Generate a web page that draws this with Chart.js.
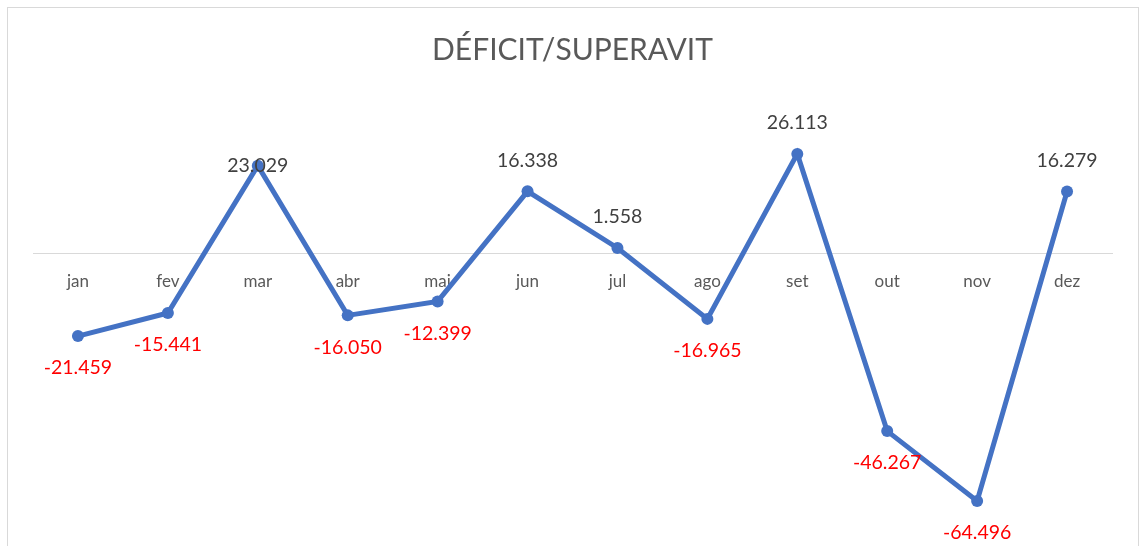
<!DOCTYPE html>
<html>
<head>
<meta charset="utf-8">
<script src="https://cdn.jsdelivr.net/npm/chart.js@4.4.1/dist/chart.umd.min.js"></script>
<style>
    html, body { margin: 0; padding: 0; background: #ffffff; }
    #wrap { position: relative; width: 1141px; height: 546px; overflow: hidden; }
    #frame { position: absolute; left: 7px; top: 7px; width: 1130px; height: 560px; border: 1px solid #d9d9d9; }
    #chart { position: absolute; left: 0; top: 0; }
</style>
</head>
<body>
<div id="wrap">
    <div id="frame"></div>
    <canvas id="chart" width="1141" height="546"></canvas>
</div>
<script>
// Déficit / superávit mensal
const months = ['jan', 'fev', 'mar', 'abr', 'mai', 'jun', 'jul', 'ago', 'set', 'out', 'nov', 'dez'];
const balance = [-21459, -15441, 23029, -16050, -12399, 16338, 1558, -16965, 26113, -46267, -64496, 16279];
const yRange = [-70000, 30000];

// formato pt-BR: separador de milhar com ponto
function fmt(v) {
    const s = Math.abs(v).toString().replace(/\B(?=(\d{3})+(?!\d))/g, '.');
    return (v < 0 ? '-' : '') + s;
}

const FONT = "Lato, 'Open Sans', sans-serif";

document.addEventListener('DOMContentLoaded', function() {
    const ctx = document.getElementById('chart').getContext('2d');
    new Chart(ctx, {
        type: 'line',
        data: {
            labels: months,
            datasets: [{
                data: balance,
                borderColor: '#4472C4',
                backgroundColor: '#4472C4',
                borderWidth: 5,
                pointRadius: 6,
                pointHoverRadius: 6,
                pointBorderWidth: 0,
                tension: 0
            }]
        },
        options: {
            responsive: false,
            animation: false,
            layout: {
                padding: { top: 0, left: 33, right: 29, bottom: 24 }
            },
            scales: {
                x: {
                    position: { y: 0 },
                    offset: true,
                    grid: { display: false, drawTicks: false },
                    border: { display: true, color: '#d9d9d9', width: 1 },
                    ticks: {
                        color: '#595959',
                        padding: 17,
                        font: { family: FONT, size: 17 }
                    }
                },
                y: {
                    display: false,
                    min: yRange[0],
                    max: yRange[1]
                }
            },
            plugins: {
                legend: { display: false },
                tooltip: { enabled: false },
                title: {
                    display: true,
                    text: 'DÉFICIT/SUPERAVIT',
                    color: '#595959',
                    font: { family: FONT, size: 30, weight: 'normal' },
                    padding: { top: 32, bottom: 71 }
                }
            }
        },
        plugins: [{
            afterDatasetsDraw: function(chart) {
                const c = chart.ctx;
                const meta = chart.getDatasetMeta(0);
                c.save();
                c.font = '19.5px ' + FONT;
                c.textAlign = 'center';
                c.textBaseline = 'middle';
                meta.data.forEach(function(pt, i) {
                    const v = balance[i];
                    let y;
                    if (i === 2) {
                        y = pt.y;           // rótulo de mar fica sobre o ponto
                    } else if (v >= 0) {
                        y = pt.y - 31;
                    } else {
                        y = pt.y + 32;
                    }
                    c.fillStyle = v < 0 ? '#FF0000' : '#404040';
                    c.fillText(fmt(v), pt.x, y);
                });
                c.restore();
            }
        }]
    });
});
</script>
</body>
</html>
